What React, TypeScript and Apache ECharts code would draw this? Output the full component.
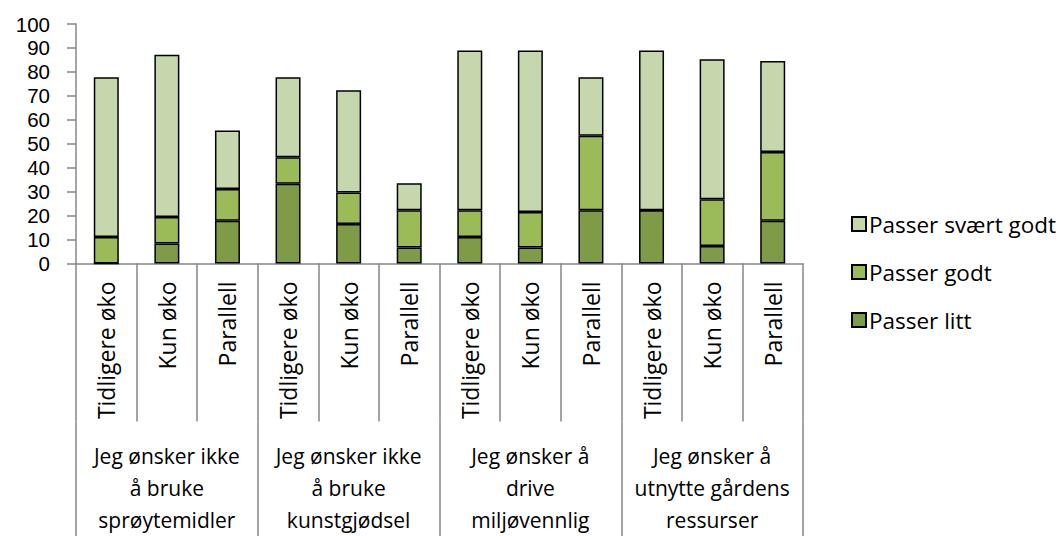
import React, { useEffect, useRef } from "react";
import * as echarts from "echarts";

const categories = [
  "Tidligere øko", "Kun øko", "Parallell",
  "Tidligere øko", "Kun øko", "Parallell",
  "Tidligere øko", "Kun øko", "Parallell",
  "Tidligere øko", "Kun øko", "Parallell",
];
const groups = [
  "Jeg ønsker ikke\nå bruke\nsprøytemidler",
  "Jeg ønsker ikke\nå bruke\nkunstgjødsel",
  "Jeg ønsker å\ndrive\nmiljøvennlig",
  "Jeg ønsker å\nutnytte gårdens\nressurser",
];
const passerLitt = [0, 8.3, 17.8, 33.3, 16.5, 6.7, 11.1, 6.7, 22.2, 22.2, 7.3, 17.9];
const passerGodt = [11.1, 11.1, 13.3, 11.1, 13.1, 15.5, 11.1, 14.8, 31.1, 0, 19.5, 28.7];
const passerSvaertGodt = [66.7, 67.8, 24.4, 33.4, 42.7, 11.3, 66.7, 67.4, 24.5, 66.7, 58.5, 38.0];
const seriesNames = ["Passer litt", "Passer godt", "Passer svært godt"];
const colors = ["#7F9B48", "#9BBB59", "#C7D7AD"];

const FONT = "Open Sans";
const AXIS = "#868686";

export default function App() {
  const ref = useRef<HTMLDivElement>(null);
  useEffect(() => {
    document.body.style.margin = "0";
    const chart = echarts.init(ref.current!, null, { renderer: "svg" });
    const values = [passerLitt, passerGodt, passerSvaertGodt];
    chart.setOption({
      animation: false,
      textStyle: { fontFamily: FONT },
      grid: { left: 76, right: 260, top: 24, bottom: 272.5, containLabel: false },
      legend: {
        orient: "vertical",
        left: 846,
        top: 205,
        itemWidth: 14,
        itemHeight: 14,
        itemGap: 20,
        icon: "rect",
        data: ["Passer svært godt", "Passer godt", "Passer litt"],
        textStyle: { fontFamily: FONT, fontSize: 22.5, lineHeight: 28, color: "#000", padding: [0, 0, 0, -2] },
      },
      xAxis: [
        {
          type: "category",
          data: categories,
          axisLine: { show: true, lineStyle: { color: AXIS, width: 1.5 } },
          axisTick: { show: true, interval: 0, length: 158, lineStyle: { color: AXIS, width: 1.5 } },
          axisLabel: {
            interval: 0,
            rotate: 90,
            margin: 18,
            fontFamily: FONT,
            fontSize: 23,
            lineHeight: 26,
            color: "#000",
          },
        },
        {
          type: "category",
          data: groups,
          position: "bottom",
          offset: 158,
          axisLine: { show: false },
          axisTick: { show: true, interval: 0, length: 120, lineStyle: { color: AXIS, width: 1.5 } },
          axisLabel: {
            interval: 0,
            margin: 18,
            fontFamily: FONT,
            fontSize: 21,
            lineHeight: 32,
            color: "#000",
            verticalAlign: "top",
          },
        },
      ],
      yAxis: {
        type: "value",
        min: 0,
        max: 100,
        interval: 10,
        splitLine: { show: false },
        axisLine: { show: true, lineStyle: { color: AXIS, width: 1.5 } },
        axisTick: { show: true, length: 9, lineStyle: { color: AXIS, width: 1.5 } },
        axisLabel: { margin: 26, fontFamily: "Liberation Sans", fontSize: 20.5, lineHeight: 20, color: "#000" },
      },
      series: seriesNames.map((name, i) => ({
        name,
        type: "bar",
        stack: "total",
        barWidth: 25,
        xAxisIndex: 0,
        data: values[i],
        itemStyle: { color: colors[i], borderColor: "#000", borderWidth: 1.5 },
      })),
    });
    return () => chart.dispose();
  }, []);
  return (
    <div
      ref={ref}
      style={{ position: "absolute", left: 0, top: 0, width: 1063, height: 536 }}
    />
  );
}
